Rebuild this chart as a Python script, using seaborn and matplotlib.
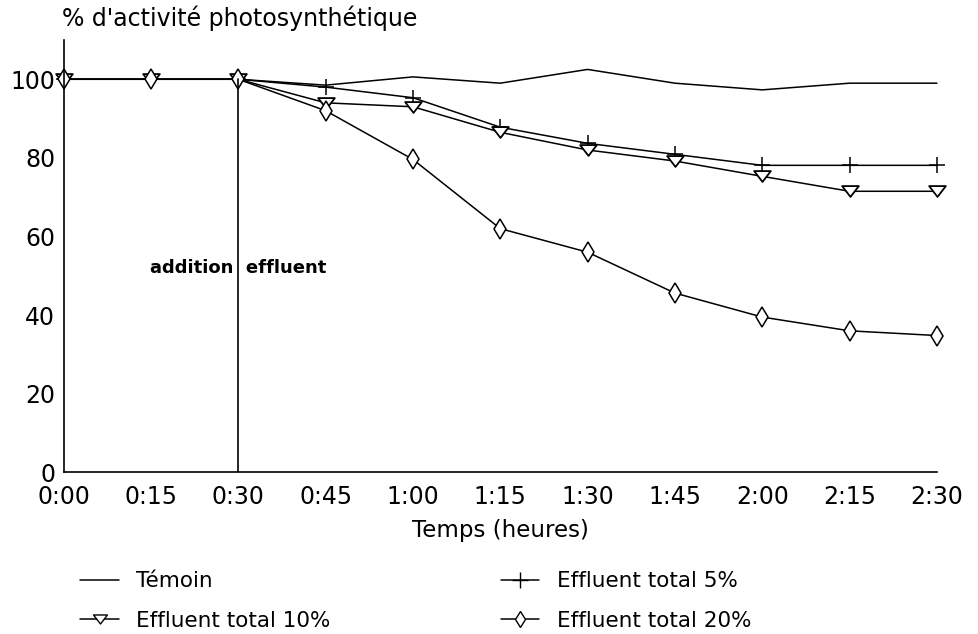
import matplotlib.pyplot as plt
import seaborn as sns
from matplotlib.lines import Line2D
from matplotlib.path import Path

# temps en minutes depuis le debut
minutes = [0, 15, 30, 45, 60, 75, 90, 105, 120, 135, 150]
tick_labels = ["0:00", "0:15", "0:30", "0:45", "1:00", "1:15",
               "1:30", "1:45", "2:00", "2:15", "2:30"]

temoin = [100, 100, 100, 98.5, 100.6, 99, 102.5, 99, 97.3, 99, 99]
effluent_5 = [100, 100, 100, 98, 95.3, 87.8, 83.7, 80.9, 78.1, 78.1, 78.1]
effluent_10 = [100, 100, 100, 94, 93, 86.5, 82, 79.2, 75.3, 71.5, 71.5]
effluent_20 = [100, 100, 100, 92, 79.6, 62, 56, 45.6, 39.5, 36, 34.8]

sns.set_style("white")
plt.rcParams['font.family'] = ['DejaVu Sans']
plt.rcParams['text.color'] = 'black'
plt.rcParams['axes.labelcolor'] = 'black'
plt.rcParams['xtick.color'] = 'black'
plt.rcParams['ytick.color'] = 'black'

# triangle aplati, pointe en bas
flat_tri = Path([(-1, 0.65), (1, 0.65), (0, -0.65), (-1, 0.65)],
                [Path.MOVETO, Path.LINETO, Path.LINETO, Path.CLOSEPOLY])

fig = plt.figure(figsize=(9.79, 6.34), dpi=100)
ax = fig.add_axes([0.065, 0.255, 0.892, 0.682])

lw = 1.1
sns.lineplot(x=minutes, y=temoin, color='black', lw=lw, ax=ax, clip_on=False)
sns.lineplot(x=minutes, y=effluent_5, color='black', lw=lw, marker='+',
             markersize=12, mec='black', mew=1.1, ax=ax, clip_on=False)
sns.lineplot(x=minutes, y=effluent_10, color='black', lw=lw, marker=flat_tri,
             markersize=12, mfc='white', mec='black', mew=1.3, ax=ax, clip_on=False)
sns.lineplot(x=minutes, y=effluent_20, color='black', lw=lw, marker='d',
             markersize=10, mfc='white', mec='black', mew=1.1, ax=ax, clip_on=False)

# addition de l'effluent a 0:30
ax.plot([30, 30], [0, 100], color='black', lw=1.2)
ax.text(30, 52, "addition  effluent", ha='center', va='center',
        fontsize=13, fontweight='bold')

ax.set_xlim(0, 150)
ax.set_ylim(0, 110)
ax.set_xticks(minutes)
ax.set_xticklabels(tick_labels)
ax.set_yticks([0, 20, 40, 60, 80, 100])
ax.tick_params(axis='x', direction='in', length=8, width=1, labelsize=17, pad=9)
ax.tick_params(axis='y', direction='out', length=5, width=1, labelsize=17, pad=1)
ax.set_xlabel("Temps (heures)", fontsize=16.5, labelpad=7)

for s in ['top', 'right']:
    ax.spines[s].set_visible(False)
for s in ['left', 'bottom']:
    ax.spines[s].set_linewidth(1.2)
    ax.spines[s].set_color('black')

fig.text(0.063, 0.972, "% d'activité photosynthétique", fontsize=17,
         va='center', ha='left')

handles = [
    Line2D([], [], color='black', lw=1.1),
    Line2D([], [], color='black', lw=1.1, marker=flat_tri, markersize=10,
           mfc='white', mec='black'),
    Line2D([], [], color='black', lw=1.1, marker='+', markersize=11),
    Line2D([], [], color='black', lw=1.1, marker='d', markersize=8,
           mfc='white', mec='black'),
]
labels = ["Témoin", "Effluent total 10%", "Effluent total 5%", "Effluent total 20%"]
fig.legend(handles, labels, ncol=2, frameon=False, fontsize=15.5,
           loc='upper left', bbox_to_anchor=(0.082, 0.099),
           borderpad=0, borderaxespad=0,
           columnspacing=7.9, handlelength=1.8, handletextpad=0.8,
           labelspacing=0.9, bbox_transform=fig.transFigure)

fig.savefig("out.png", dpi=100)
